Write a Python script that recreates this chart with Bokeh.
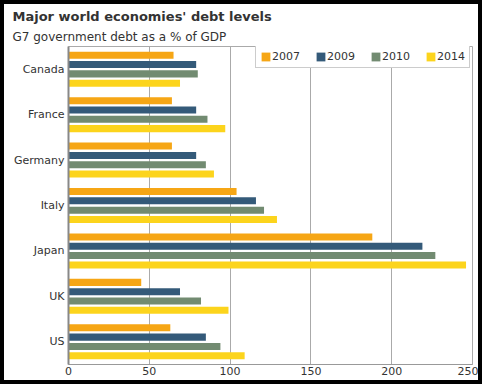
from bokeh.plotting import figure
from bokeh.models import (ColumnDataSource, FactorRange, Range1d, Legend, LegendItem,
                          FixedTicker, Title)
from bokeh.transform import dodge
from bokeh.embed import file_html
from bokeh.resources import INLINE

countries = ["Canada", "France", "Germany", "Italy", "Japan", "UK", "US"]
years = ["2007", "2009", "2010", "2014"]
d2007 = [65, 64, 64, 104, 188, 45, 63]
d2009 = [79, 79, 79, 116, 219, 69, 85]
d2010 = [80, 86, 85, 121, 227, 82, 94]
d2014 = [69, 97, 90, 129, 246, 99, 109]
x_ticks = [0, 50, 100, 150, 200, 250]

colors = ["#F6A615", "#345A79", "#728B71", "#FCD41C"]
offsets = [0.3075, 0.1025, -0.1025, -0.3075]

src = ColumnDataSource(dict(country=countries, y2007=d2007, y2009=d2009,
                            y2010=d2010, y2014=d2014))

p = figure(frame_width=404, frame_height=318, output_backend="svg", toolbar_location=None,
           y_range=FactorRange(factors=list(reversed(countries))),
           x_range=Range1d(0, 250),
           min_border_left=64, min_border_right=6, min_border_top=42,
           min_border_bottom=16,
           title="Major world economies' debt levels")
p.styles = {"border": "4px solid black"}
p.background_fill_color = "white"
p.border_fill_color = "white"
p.outline_line_color = "#AAAAAA"
p.outline_line_width = 1

p.title.text_font = "DejaVu Sans"
p.title.text_font_size = "13px"
p.title.text_font_style = "bold"
p.title.text_color = "#333333"
p.title.align = "left"
p.title.offset = -56
p.title.standoff = 2

p.add_layout(Title(text="G7 government debt as a % of GDP", text_font="DejaVu Sans",
                   text_font_size="12px", text_font_style="normal", text_color="#333333",
                   align="left", offset=-56, standoff=6), "above")

items = []
for yr, col, off in zip(years, colors, offsets):
    r = p.hbar(y=dodge("country", off, range=p.y_range), left=0, right="y" + yr,
               height=0.155, source=src, fill_color=col, line_color=None)
    items.append(LegendItem(label=yr, renderers=[r]))

p.xaxis.ticker = FixedTicker(ticks=x_ticks)
p.xgrid.grid_line_color = "#AAAAAA"
p.ygrid.grid_line_color = None
for ax in (p.xaxis, p.yaxis):
    ax.major_tick_line_color = None
    ax.minor_tick_line_color = None
    ax.major_tick_out = 0
    ax.major_label_text_font = "DejaVu Sans"
    ax.major_label_text_font_size = "11px"
    ax.major_label_text_color = "#333333"
p.xaxis.axis_line_color = "#999999"
p.xaxis.major_label_standoff = 2
p.yaxis.axis_line_color = "#888888"
p.yaxis.axis_line_width = 2
p.yaxis.major_label_standoff = 4

legend = Legend(items=items, orientation="horizontal", location=(187, 296),
                border_line_color="#999999", border_line_width=1,
                background_fill_color="white", background_fill_alpha=1,
                label_text_font="DejaVu Sans", label_text_font_size="11px",
                label_text_color="#333333", glyph_width=11, glyph_height=11,
                label_height=12, label_standoff=1, spacing=15, padding=4, margin=0)
p.add_layout(legend, "center")

open("out.html", "w").write(file_html(p, INLINE))
